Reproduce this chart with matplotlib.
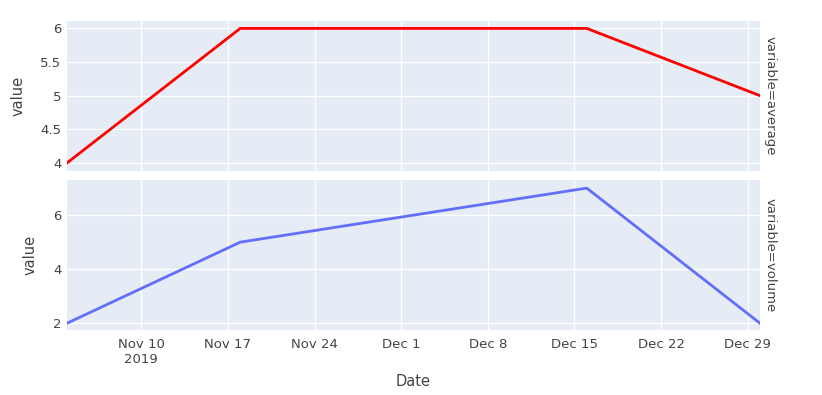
import numpy as np
import matplotlib
matplotlib.use("Agg")
import matplotlib.pyplot as plt

dates = np.array(["2019-11-04", "2019-11-18", "2019-12-16", "2019-12-30"], dtype="datetime64[D]")
average = [4, 6, 6, 5]
volume = [2, 5, 7, 2]

tick_dates = np.array(["2019-11-10", "2019-11-17", "2019-11-24", "2019-12-01",
                       "2019-12-08", "2019-12-15", "2019-12-22", "2019-12-29"], dtype="datetime64[D]")
tick_labels = ["Nov 10\n2019", "Nov 17", "Nov 24", "Dec 1", "Dec 8", "Dec 15", "Dec 22", "Dec 29"]

bg = "#E5ECF6"
tc = "#444444"
plt.rcParams["font.family"] = ["DejaVu Sans"]

W, H = 822, 395
fig = plt.figure(figsize=(W / 100, H / 100), dpi=100)

def box(x0, y0, x1, y1):
    return [x0 / W, 1 - y1 / H, (x1 - x0) / W, (y1 - y0) / H]

ax1 = fig.add_axes(box(67, 21, 760, 171))
ax2 = fig.add_axes(box(67, 180, 760, 330), sharex=ax1)

for ax, vals, color, yl, yt, name, lx in [
        (ax1, average, "#ff0000", (3.88, 6.11), [4, 4.5, 5, 5.5, 6], "variable=average", 26),
        (ax2, volume, "#636efa", (1.75, 7.3), [2, 4, 6], "variable=volume", 38)]:
    ax.set_facecolor(bg)
    ax.plot(dates, vals, color=color, lw=2, zorder=3)
    ax.set_ylim(*yl)
    ax.set_yticks(yt)
    ax.set_yticklabels([f"{v:g}" for v in yt])
    ax.grid(True, color="white", lw=1)
    ax.set_axisbelow(True)
    for s in ax.spines.values():
        s.set_visible(False)
    ax.tick_params(length=0, labelsize=9.5, colors=tc, pad=4)
    ax.set_ylabel("value", fontsize=10.5, color=tc)
    ax.yaxis.set_label_coords((lx - 67) / 693, 0.5)
    ax.text((764 - 67) / 693, 0.5, name, transform=ax.transAxes, rotation=-90,
            ha="left", va="center", fontsize=9.5, color=tc)

ax1.set_xlim(np.datetime64("2019-11-04"), np.datetime64("2019-12-30"))
ax1.set_xticks(tick_dates)
ax2.set_xticklabels(tick_labels)
plt.setp(ax1.get_xticklabels(), visible=False)
ax2.tick_params(axis="x", pad=6)
fig.text(413 / W, 1 - 382 / H, "Date", ha="center", va="center", fontsize=10.5, color=tc)

fig.savefig("out.png", dpi=100)
